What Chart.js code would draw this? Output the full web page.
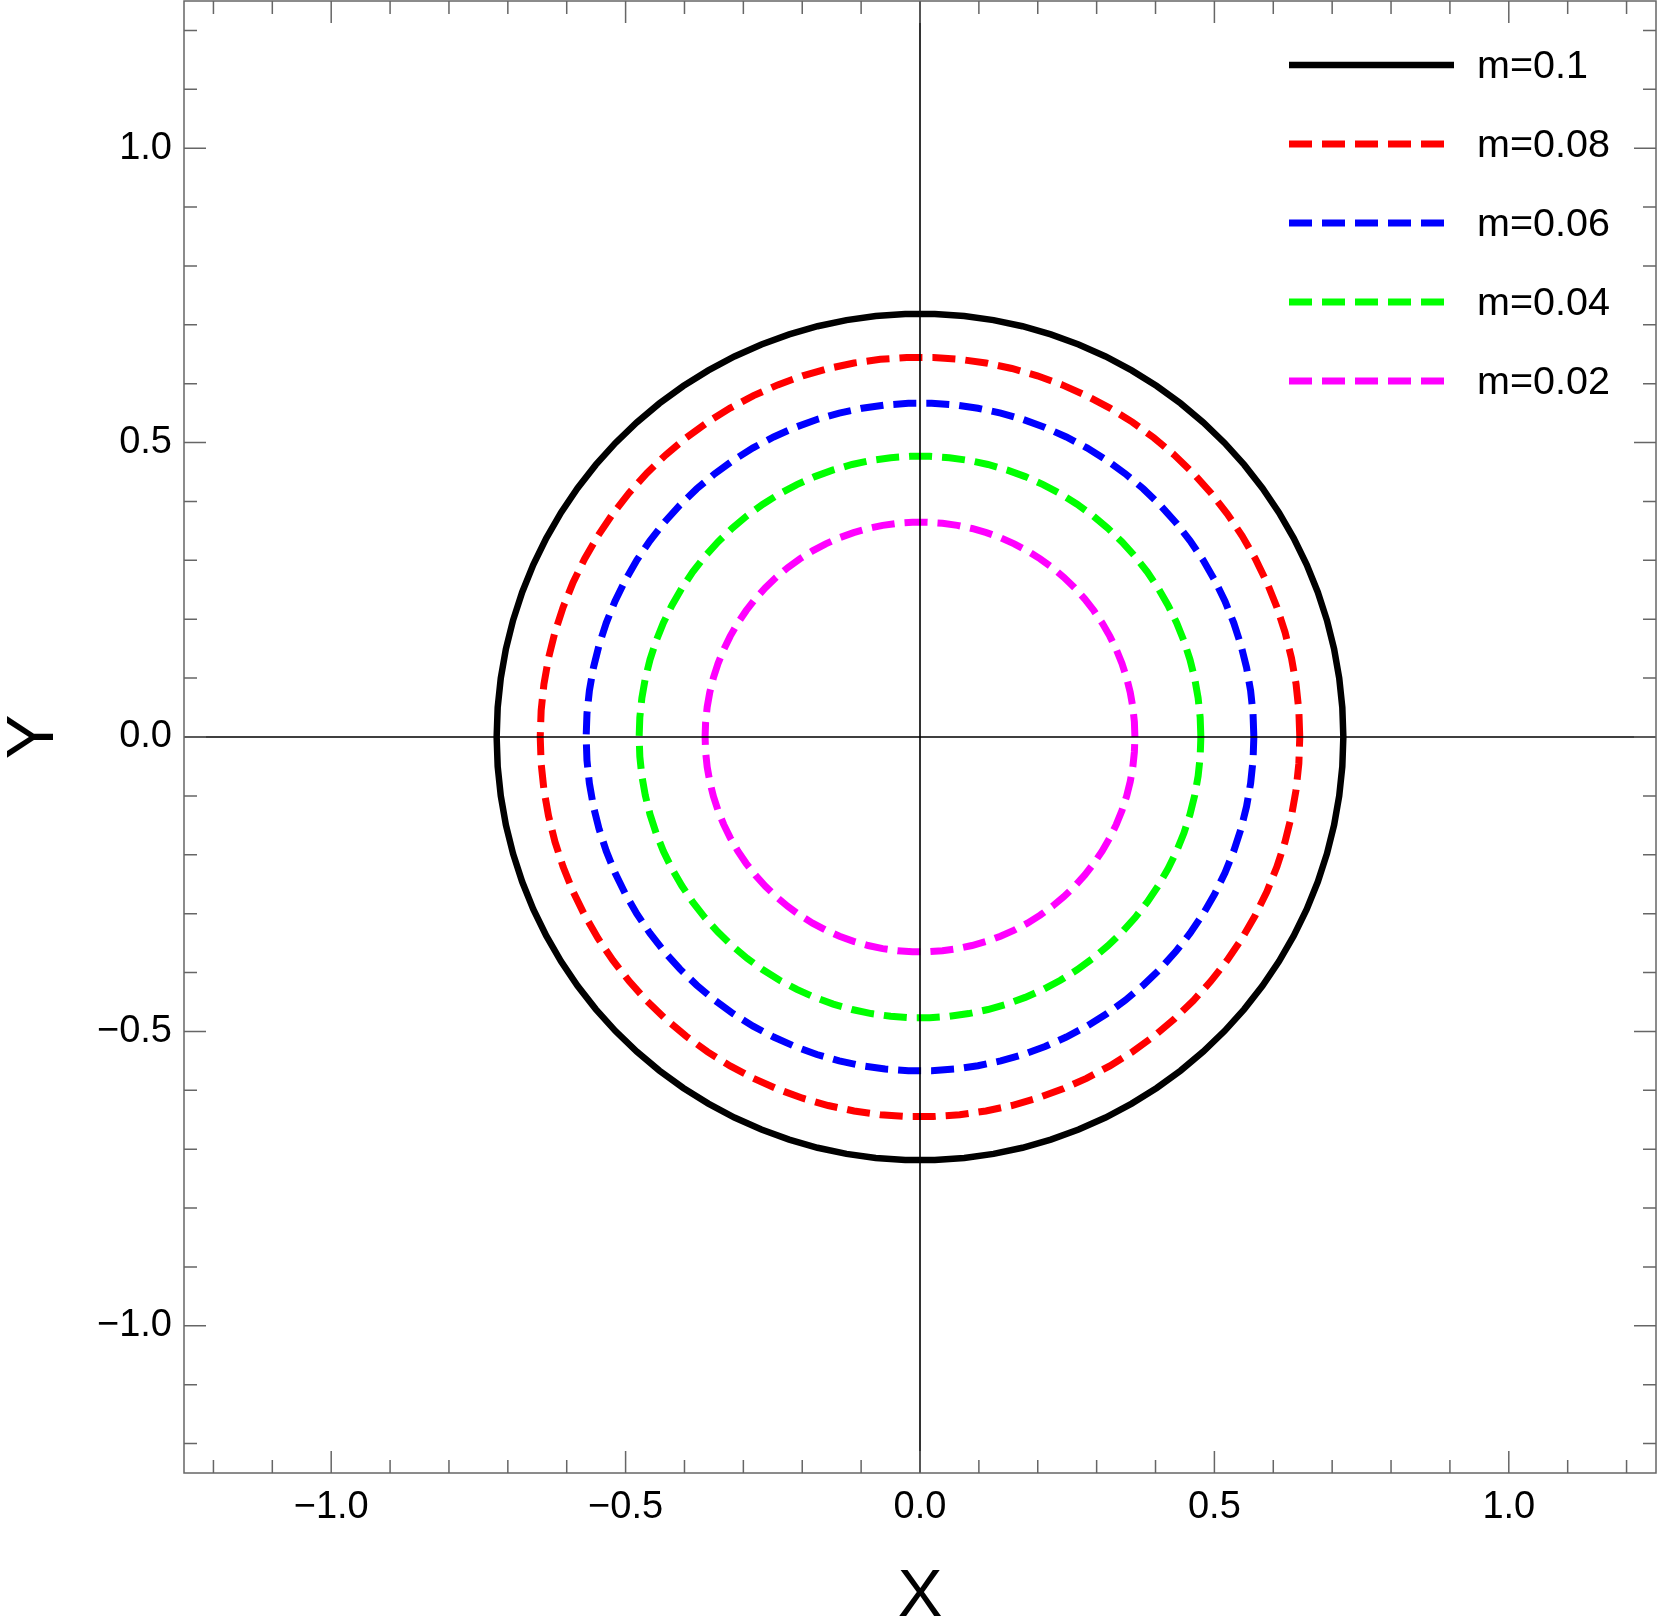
<!DOCTYPE html>
<html>
<head>
<meta charset="utf-8">
<script src="https://cdn.jsdelivr.net/npm/chart.js@4.4.1/dist/chart.umd.min.js"></script>
<style>
  html, body { margin: 0; padding: 0; background: #fff; }
  canvas { display: block; }
</style>
</head>
<body>
<canvas id="orbitChart" width="1661" height="1621"></canvas>
<script>
// one closed curve per mass value
const labels = ['m=0.1', 'm=0.08', 'm=0.06', 'm=0.04', 'm=0.02'];
const radii = [0.719, 0.645, 0.567, 0.477, 0.365];
const colors = ['#000000', '#ff0000', '#0000ff', '#00ff00', '#ff00ff'];
const dashes = [[], [23, 10], [23, 10], [23, 10], [23, 10]];

// axis ticks
const majorTicks = [-1.0, -0.5, 0.0, 0.5, 1.0];
const minorTicks = [-1.2, -1.1, -0.9, -0.8, -0.7, -0.6, -0.4, -0.3, -0.2, -0.1,
                    0.1, 0.2, 0.3, 0.4, 0.6, 0.7, 0.8, 0.9, 1.1, 1.2];

const FONT = "'Liberation Sans', Arial, sans-serif";
const SEGMENTS = 90;

function outline(r) {
  const pts = [];
  for (let i = 0; i <= SEGMENTS; i++) {
    const t = 2 * Math.PI * i / SEGMENTS;
    pts.push({ x: r * Math.cos(t), y: r * Math.sin(t) });
  }
  return pts;
}

const fmt = v => (v < 0 ? '\u2212' : '') + Math.abs(v).toFixed(1);

// frame, inward ticks, zero axes and the legend
const decorations = {
  id: 'decorations',
  afterDatasetsDraw(chart) {
    const { ctx, chartArea: a, scales } = chart;
    const sx = scales.x, sy = scales.y;
    ctx.save();

    // zero axes
    ctx.strokeStyle = '#000';
    ctx.lineWidth = 1.6;
    ctx.beginPath();
    const x0 = sx.getPixelForValue(0), y0 = sy.getPixelForValue(0);
    ctx.moveTo(a.left, y0); ctx.lineTo(a.right, y0);
    ctx.moveTo(x0, a.top); ctx.lineTo(x0, a.bottom);
    ctx.stroke();

    // ticks on all four sides
    ctx.strokeStyle = '#666';
    ctx.lineWidth = 1.5;
    ctx.beginPath();
    const tick = (v, len) => {
      const px = sx.getPixelForValue(v), py = sy.getPixelForValue(v);
      ctx.moveTo(px, a.bottom); ctx.lineTo(px, a.bottom - len);
      ctx.moveTo(px, a.top); ctx.lineTo(px, a.top + len);
      ctx.moveTo(a.left, py); ctx.lineTo(a.left + len, py);
      ctx.moveTo(a.right, py); ctx.lineTo(a.right - len, py);
    };
    majorTicks.forEach(v => tick(v, 22));
    minorTicks.forEach(v => tick(v, 13));
    ctx.stroke();

    // frame
    ctx.strokeRect(a.left, a.top, a.right - a.left, a.bottom - a.top);

    // legend
    const lx = a.right - 367, tx = a.right - 179;
    chart.data.datasets.forEach((ds, i) => {
      const y = a.top + 64 + i * 79;
      ctx.strokeStyle = ds.borderColor;
      ctx.lineWidth = ds.borderWidth;
      ctx.setLineDash(ds.borderDash || []);
      ctx.lineCap = 'butt';
      ctx.beginPath();
      ctx.moveTo(lx, y); ctx.lineTo(lx + 165, y);
      ctx.stroke();
      ctx.setLineDash([]);
      ctx.fillStyle = '#000';
      ctx.font = '39.5px ' + FONT;
      ctx.textAlign = 'left';
      ctx.textBaseline = 'middle';
      ctx.fillText(ds.label, tx, y + 2);
    });
    ctx.restore();
  }
};

const noPad = s => { s.paddingTop = 0; s.paddingBottom = 0; s.paddingLeft = 0; s.paddingRight = 0; };

new Chart(document.getElementById('orbitChart'), {
  type: 'scatter',
  data: {
    datasets: labels.map((label, i) => ({
      label: label,
      data: outline(radii[i]),
      showLine: true,
      fill: false,
      borderColor: colors[i],
      borderWidth: i === 0 ? 6.5 : 7,
      borderDash: dashes[i],
      pointRadius: 0,
      tension: 0
    }))
  },
  options: {
    responsive: false,
    animation: false,
    devicePixelRatio: 1,
    layout: { padding: { top: 1, right: 5, left: 0, bottom: 0 } },
    plugins: { legend: { display: false }, tooltip: { enabled: false } },
    scales: {
      x: {
        type: 'linear', position: 'bottom', min: -1.25, max: 1.25,
        grid: { display: false, drawTicks: false }, border: { display: false },
        afterBuildTicks: s => { s.ticks = majorTicks.map(v => ({ value: v })); },
        afterFit: s => { s.height = 148; noPad(s); },
        ticks: { color: '#000', font: { family: FONT, size: 38 }, padding: 12, maxRotation: 0, callback: fmt },
        title: { display: true, text: 'X', color: '#000', font: { family: FONT, size: 67, lineHeight: 0.71 }, padding: 0 }
      },
      y: {
        type: 'linear', position: 'left', min: -1.25, max: 1.25,
        grid: { display: false, drawTicks: false }, border: { display: false },
        afterBuildTicks: s => { s.ticks = majorTicks.map(v => ({ value: v })); },
        afterFit: s => { s.width = 184; noPad(s); },
        ticks: { color: '#000', font: { family: FONT, size: 38 }, padding: 12, callback: fmt },
        title: { display: true, text: 'Y', color: '#000', font: { family: FONT, size: 67, lineHeight: 0.8 }, padding: { top: 8, bottom: 0 } }
      }
    }
  },
  plugins: [decorations]
});
</script>
</body>
</html>
